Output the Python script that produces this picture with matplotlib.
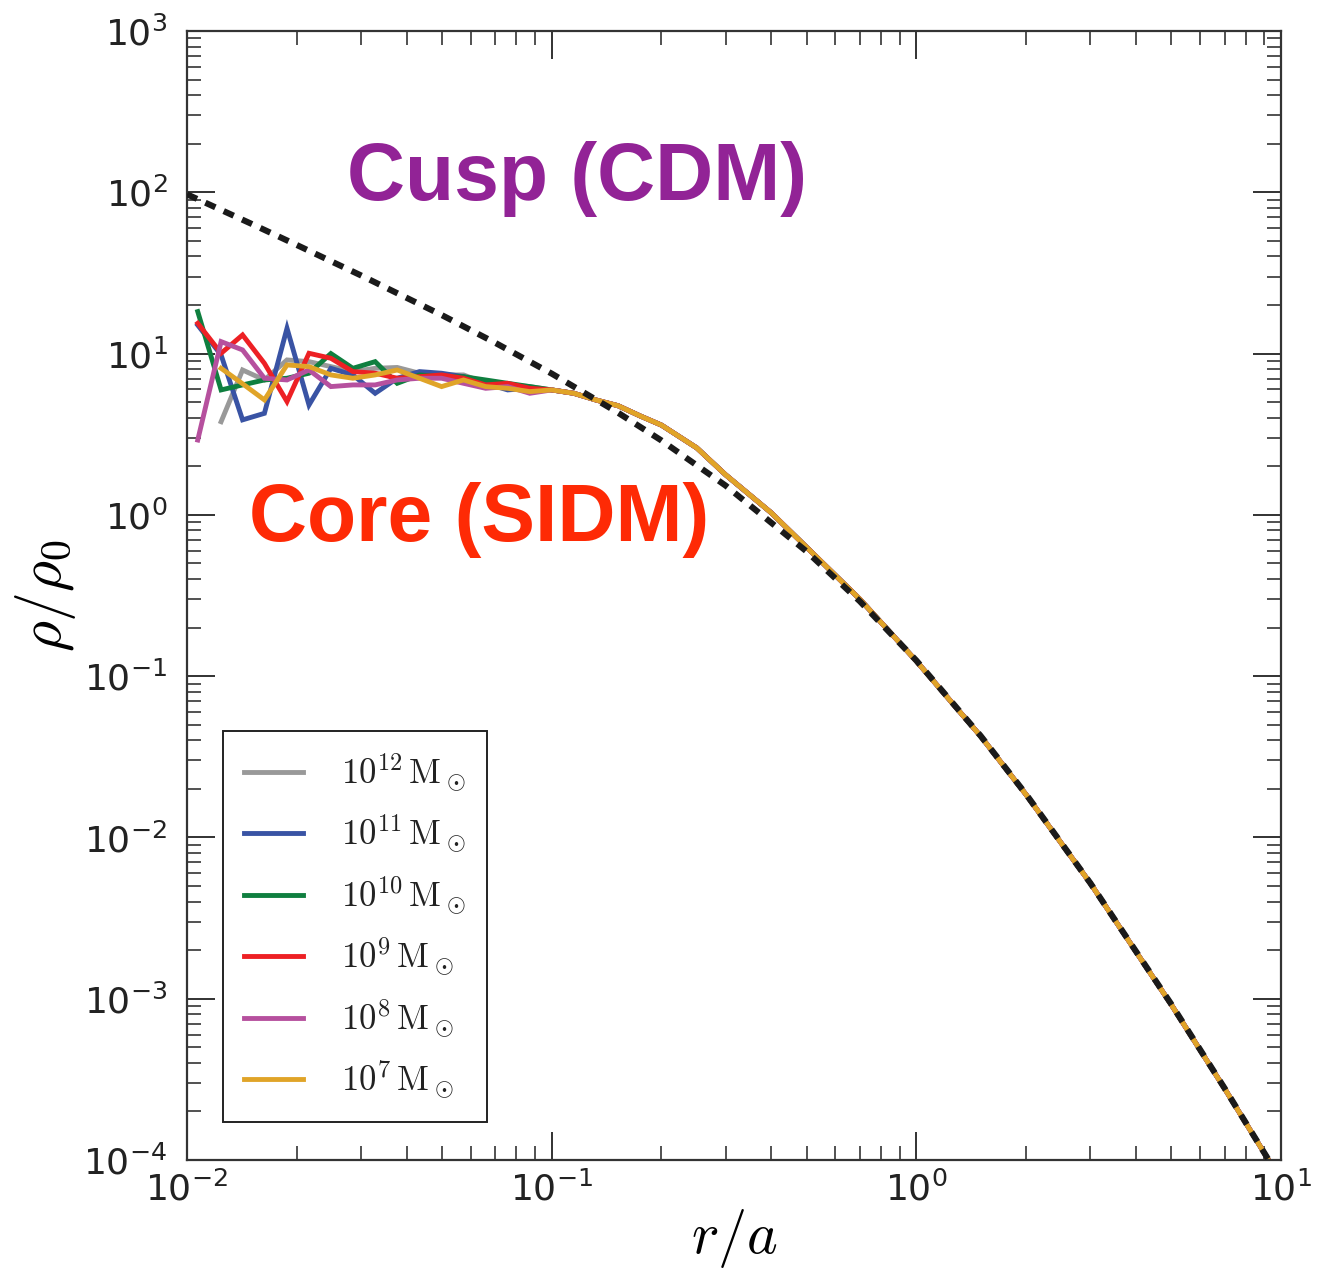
import numpy as np
import matplotlib
matplotlib.use('Agg')
import matplotlib.pyplot as plt
from matplotlib.ticker import LogLocator, NullFormatter

plt.rcParams['mathtext.fontset'] = 'dejavusans'
plt.rcParams['axes.unicode_minus'] = False

# inner radial bins (noisy core region), r/a
r_inner = [0.0107, 0.0124, 0.0142, 0.0163, 0.0188, 0.0216, 0.0248, 0.0285,
           0.0328, 0.0377, 0.0434, 0.0499, 0.0573, 0.0659, 0.0757, 0.0871]
# outer part where all halos coincide
r_outer = [0.100, 0.115, 0.132, 0.152, 0.175, 0.2, 0.25, 0.3, 0.4, 0.5, 0.7,
           1.0, 1.5, 2.0, 3.0, 5.0, 7.0, 10.0]
rho_outer = [5.95, 5.67, 5.16, 4.75, 4.10, 3.6, 2.6, 1.77, 1.03, 0.63, 0.30,
             0.124, 0.0425, 0.0184, 0.0052, 9.2e-4, 2.78e-4, 7.5e-5]

rho_1e12 = [np.nan, 3.78, 7.91, 6.86, 9.13, 8.91, 8.30, 7.73, 8.10, 8.20, 7.55, 7.37, 7.37, 6.54, 6.39, 6.24]
rho_1e11 = [15.0, 9.80, 3.88, 4.26, 14.35, 4.80, 8.10, 7.37, 5.67, 7.03, 7.73, 7.55, 7.19, 6.54, 5.95, 6.09]
rho_1e10 = [18.2, 5.95, 6.39, 6.86, 7.03, 7.55, 10.0, 8.10, 8.91, 6.54, 7.37, 7.19, 7.19, 6.86, 6.54, 6.24]
rho_1e9 = [15.4, 10.04, 13.04, 8.70, 5.04, 10.04, 9.35, 7.73, 7.55, 7.03, 7.19, 7.37, 7.03, 6.39, 6.54, 6.09]
rho_1e8 = [2.91, 11.86, 10.53, 7.03, 6.86, 7.91, 6.24, 6.39, 6.39, 6.86, 7.03, 7.03, 6.54, 6.09, 6.24, 5.67]
rho_1e7 = [np.nan, 8.10, 6.50, 5.16, 8.50, 8.30, 7.37, 7.03, 7.37, 7.91, 7.03, 6.24, 6.86, 6.24, 6.09, 5.81]

# CDM cusp (dashed)
r_cusp = [0.01, 0.015, 0.02, 0.03, 0.05, 0.07, 0.1, 0.15, 0.2, 0.3, 0.5, 0.7,
          1.0, 1.5, 2.0, 3.0, 5.0, 7.0, 10.0]
rho_cusp = [97.1, 63.8, 47.1, 30.5, 17.3, 11.66, 7.51, 4.38, 2.89, 1.517, 0.593,
            0.291, 0.125, 0.0427, 0.0185, 0.00521, 9.26e-4, 2.79e-4, 7.51e-5]

labels = [r'$10^{12}\,\mathrm{M}_\odot$', r'$10^{11}\,\mathrm{M}_\odot$',
          r'$10^{10}\,\mathrm{M}_\odot$', r'$10^{9}\,\mathrm{M}_\odot$',
          r'$10^{8}\,\mathrm{M}_\odot$', r'$10^{7}\,\mathrm{M}_\odot$']
colors = ['#999999', '#3953a4', '#0f7f3f', '#ed2024', '#b6509e', '#e0a428']
series = [rho_1e12, rho_1e11, rho_1e10, rho_1e9, rho_1e8, rho_1e7]

fig = plt.figure(figsize=(13.34, 12.79), dpi=100)
ax = fig.add_axes([0.1402, 0.0930, 0.8201, 0.8828])

r_all = r_inner + r_outer
for rho, c, lab in zip(series, colors, labels):
    ax.plot(r_all, rho + rho_outer, color=c, lw=3.5, label=lab, solid_joinstyle='miter')

ax.plot(r_cusp, rho_cusp, color='#1a1a1a', lw=4.4, ls=(0, (1.8, 1.5)),
        dash_capstyle='butt', zorder=5)

ax.set_xscale('log')
ax.set_yscale('log')
ax.set_xlim(1e-2, 1e1)
ax.set_ylim(1e-4, 1e3)

for axis in (ax.xaxis, ax.yaxis):
    axis.set_major_locator(LogLocator(base=10, numticks=20))
    axis.set_minor_locator(LogLocator(base=10, subs=np.arange(2, 10), numticks=20))
    axis.set_minor_formatter(NullFormatter())

ax.tick_params(which='both', direction='in', top=True, right=True, colors='#222222')
ax.tick_params(which='major', length=20, width=1.3, labelsize=26)
ax.tick_params(which='minor', length=10, width=1.1)
ax.tick_params(axis='y', which='major', pad=14)
ax.tick_params(axis='x', which='major', pad=8)
for s in ax.spines.values():
    s.set_linewidth(1.6)
    s.set_color('#333333')

ax.set_xlabel(r'$r/a$', fontsize=42, math_fontfamily='cm', labelpad=0)
ax.set_ylabel(r'$\rho/\rho_0$', fontsize=43, math_fontfamily='cm', labelpad=4)

ax.text(0.117, 89.6, 'Cusp (CDM)', color='#922396', fontsize=58, fontweight='bold',
        family='Liberation Sans', ha='center', va='baseline')
ax.text(0.0632, 0.689, 'Core (SIDM)', color='#fe2a05', fontsize=58, fontweight='bold',
        family='Liberation Sans', ha='center', va='baseline')

leg = ax.legend(loc='lower left', bbox_to_anchor=(0.033, 0.034), borderaxespad=0,
                fontsize=25, frameon=True, fancybox=False, framealpha=1,
                edgecolor='#222222', handlelength=1.7, handletextpad=1.1,
                labelspacing=0.55, borderpad=0.6)
leg.get_frame().set_linewidth(1.4)
for t in leg.get_texts():
    t.set_math_fontfamily('cm')
    t.set_color('#222222')

fig.savefig('out.png', dpi=100)
